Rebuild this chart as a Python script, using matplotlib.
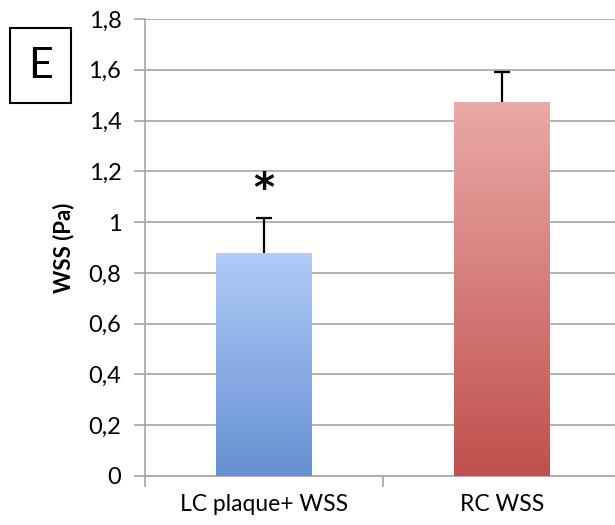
import matplotlib.pyplot as plt
import numpy as np
from matplotlib.colors import LinearSegmentedColormap
from matplotlib.ticker import MultipleLocator, FuncFormatter
from matplotlib.patches import Rectangle

plt.rcParams['font.family'] = ['Lato', 'DejaVu Sans']

# data
categories = ['LC plaque+ WSS', 'RC WSS']
wss_mean = [0.88, 1.475]
wss_err = [0.135, 0.115]
top_colors = ['#b0cbf8', '#eaa9a7']
bottom_colors = ['#6690d3', '#c0504d']
bar_width = 0.40
cap_half = 0.032

fig = plt.figure(figsize=(6.15, 5.25), dpi=100)
ax = fig.add_axes([145 / 615, 49 / 525, 476 / 615, 457 / 525])

x = np.arange(len(categories))
ax.set_xlim(-0.5, 1.5)
ax.set_ylim(0, 1.8)

# gradient-filled bars
grad = np.linspace(1, 0, 256).reshape(-1, 1)
for i, (xi, h) in enumerate(zip(x, wss_mean)):
    cmap = LinearSegmentedColormap.from_list('g%d' % i, [bottom_colors[i], top_colors[i]])
    left = xi - bar_width / 2
    rect = Rectangle((left, 0), bar_width, h, facecolor='none', edgecolor='none', zorder=3)
    ax.add_patch(rect)
    im = ax.imshow(grad, cmap=cmap, aspect='auto', extent=[left, left + bar_width, 0, h],
                   zorder=3, interpolation='bicubic')
    im.set_clip_path(rect)

# upper error bars only
tops = np.array(wss_mean) + np.array(wss_err)
ax.vlines(x, wss_mean, tops, color='black', linewidth=1.6, zorder=4)
ax.hlines(tops, x - cap_half, x + cap_half, color='black', linewidth=1.6, zorder=4)

# significance star
ax.text(x[0], 1.125, '*', ha='center', va='center',
        fontsize=29, fontweight='bold', color='black', family='DejaVu Sans')

ax.set_xlim(-0.5, 1.5)
ax.set_ylim(0, 1.8)
ax.yaxis.set_major_locator(MultipleLocator(0.2))
ax.yaxis.set_major_formatter(FuncFormatter(lambda v, p: ('%g' % round(v, 1)).replace('.', ',')))
ax.grid(axis='y', color='#a6a6a6', linewidth=1.2, zorder=0)
ax.set_axisbelow(True)

ax.set_xticks([-0.5, 0.5, 1.5])
ax.set_xticklabels([])
ax.set_xticks(x, minor=True)
ax.set_xticklabels(categories, minor=True, fontsize=16.5)
ax.tick_params(axis='x', which='minor', length=0, pad=13)
ax.tick_params(axis='x', which='major', length=8, color='#a6a6a6', width=1.2)
ax.tick_params(axis='y', length=8, color='#a6a6a6', width=1.2, labelsize=17, pad=9)

for s in ['top', 'right']:
    ax.spines[s].set_visible(False)
for s in ['left', 'bottom']:
    ax.spines[s].set_color('#a6a6a6')
    ax.spines[s].set_linewidth(1.2)

ax.set_ylabel('WSS (Pa)', fontsize=16, fontweight='bold', labelpad=10)

# panel label
fig.add_artist(Rectangle((10 / 615, 1 - 103 / 525), 61 / 615, 75 / 525, transform=fig.transFigure,
                         facecolor='white', edgecolor='black', linewidth=1.5))
fig.text(40 / 615, 1 - 66 / 525, 'E', fontsize=31, ha='center', va='center')

fig.savefig('out.png', dpi=100)
